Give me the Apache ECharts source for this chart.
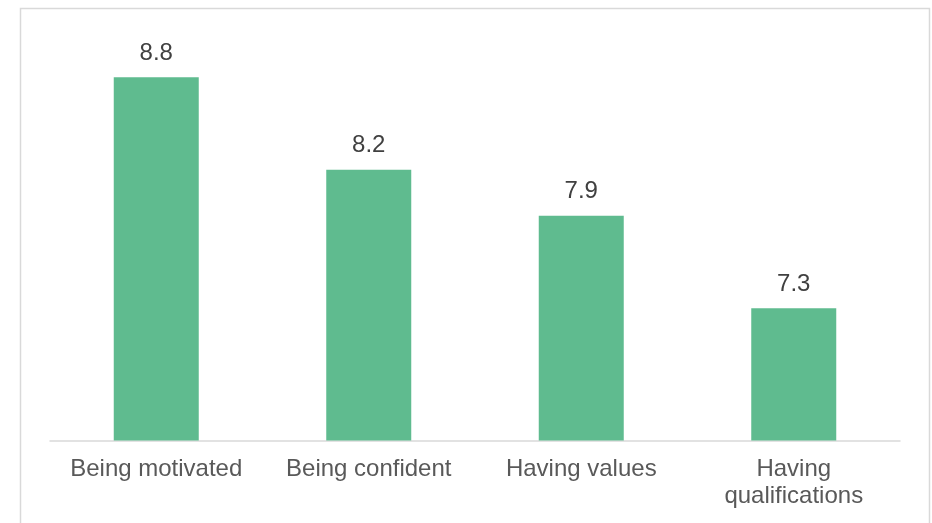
<!DOCTYPE html>
<html>
<head>
<meta charset="utf-8">
<script src="https://cdn.jsdelivr.net/npm/echarts@6/dist/echarts.min.js"></script>
<style>
  html, body { margin: 0; padding: 0; background: #ffffff; }
  #chart { width: 932px; height: 523px; }
</style>
</head>
<body>
<div id="chart"></div>
<script>
// Average ratings of the qualities
const categories = ['Being motivated', 'Being confident', 'Having values', 'Having qualifications'];
const ratings = [8.8, 8.2, 7.9, 7.3];

const chart = echarts.init(document.getElementById('chart'), null, { renderer: 'canvas' });

chart.setOption({
  animation: false,
  backgroundColor: '#ffffff',
  graphic: [{
    type: 'rect',
    shape: { x: 20.5, y: 8.5, width: 909, height: 530 },
    style: { fill: 'none', stroke: '#d9d9d9', lineWidth: 1.5 },
    silent: true
  }],
  grid: { left: 50, right: 32, top: 46.5, bottom: 82.5, containLabel: false },
  xAxis: {
    type: 'category',
    data: categories,
    axisLine: { show: true, lineStyle: { color: '#d9d9d9', width: 1.5 } },
    axisTick: { show: false },
    axisLabel: {
      interval: 0,
      margin: 15,
      color: '#595959',
      fontFamily: 'Liberation Sans, Arial, sans-serif',
      fontSize: 24,
      lineHeight: 27,
      formatter: v => v === 'Having qualifications' ? 'Having\nqualifications' : v
    }
  },
  yAxis: {
    type: 'value',
    min: 6.44,
    max: 9.0,
    show: false,
    splitLine: { show: false }
  },
  series: [{
    type: 'bar',
    data: ratings,
    barWidth: '40%',
    itemStyle: { color: '#5fbb8f' },
    label: {
      show: true,
      position: 'top',
      distance: 12,
      color: '#404040',
      fontFamily: 'Liberation Sans, Arial, sans-serif',
      fontSize: 24,
      formatter: p => p.value.toFixed(1)
    }
  }]
});
</script>
</body>
</html>
